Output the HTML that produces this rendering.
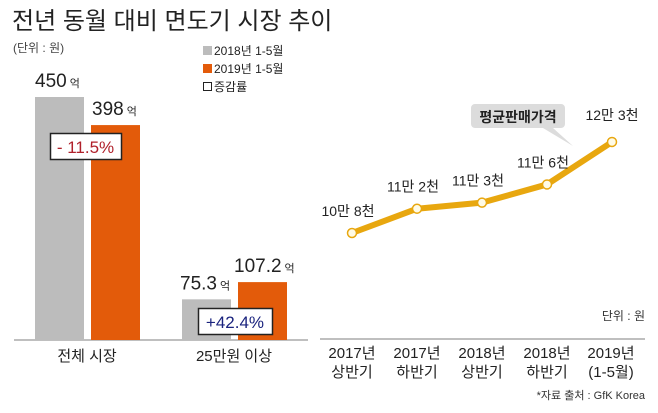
<!DOCTYPE html>
<html><head><meta charset="utf-8"><style>
body{margin:0;background:#fff;}
svg{display:block;font-family:"Liberation Sans","Noto Sans CJK KR",sans-serif;}
</style></head><body>
<svg id="c" width="658" height="413" viewBox="0 0 658 413">
<text x="12" y="29" font-size="24" fill="#222">전년 동월 대비 면도기 시장 추이</text>
<text x="13" y="52" font-size="12" fill="#444">(단위 : 원)</text>
<g>
<rect x="203" y="46" width="9" height="9" fill="#bcbcbc"/>
<text x="214" y="55" font-size="12" fill="#222">2018년 1-5월</text>
<rect x="203" y="64" width="9" height="9" fill="#e35b0a"/>
<text x="214" y="73" font-size="12" fill="#222">2019년 1-5월</text>
<rect x="203.5" y="82.5" width="8" height="8" fill="#fff" stroke="#222"/>
<text x="214" y="91" font-size="12" fill="#222">증감률</text>
</g>
<line x1="14" y1="340" x2="308" y2="340" stroke="#999" stroke-width="1.2"/>
<line x1="320" y1="339" x2="645" y2="339" stroke="#999" stroke-width="1.2"/>
<g id="bars"></g>
<g id="line"></g>
<text x="645" y="320" font-size="12" fill="#333" text-anchor="end">단위 : 원</text>
<text x="645" y="399" font-size="11" fill="#333" text-anchor="end">*자료 출처 : GfK Korea</text>
</svg>
<script>
const barCategories=["전체 시장","25만원 이상"];
const values2018=[450,75.3];
const values2019=[398,107.2];
const rateLabels=["- 11.5%","+42.4%"];
const barValueLabels2018=["450","75.3"];
const barValueLabels2019=["398","107.2"];
const lineCategories=[["2017년","상반기"],["2017년","하반기"],["2018년","상반기"],["2018년","하반기"],["2019년","(1-5월)"]];
const priceValues=[108,112,113,116,123];
const priceLabels=["10만 8천","11만 2천","11만 3천","11만 6천","12만 3천"];
const NS="http://www.w3.org/2000/svg";
function mk(tag,attrs,parent,txt){const e=document.createElementNS(NS,tag);for(const k in attrs)e.setAttribute(k,attrs[k]);if(txt!==undefined)e.textContent=txt;parent.appendChild(e);return e;}
const base=340, scale=0.54;
const yBar=v=>base-v*scale;
const groupX=[35,182];
const bg=document.getElementById('bars');
barCategories.forEach((c,i)=>{
  const x=groupX[i];
  const r1=mk('rect',{x:x,y:yBar(values2018[i]),width:49,height:base-yBar(values2018[i]),fill:'#bcbcbc'},bg);
  
  
  const r2=mk('rect',{x:x+56,y:yBar(values2019[i]),width:49,height:base-yBar(values2019[i]),fill:'#e35b0a'},bg);
  
  
  const t1=mk('text',{x:x+(i?-2:0),y:yBar(values2018[i])-10,'font-size':19,fill:'#222'},bg);
  
  
  mk('tspan',{},t1,barValueLabels2018[i]);mk('tspan',{'font-size':11,dx:3},t1,'억');
  const t2=mk('text',{x:x+(i?52:57),y:yBar(values2019[i])-10,'font-size':19,fill:'#222'},bg);
  
  
  mk('tspan',{},t2,barValueLabels2019[i]);mk('tspan',{'font-size':11,dx:3},t2,'억');
  const bx=i?198:50, by=i?308:133, bw=i?74:71;
  const rb=mk('rect',{x:bx+0.5,y:by+0.5,width:bw,height:26,fill:'#fff',stroke:'#222','stroke-width':1.5},bg);
  
  
  const rt=mk('text',{x:bx+bw/2,y:by+20,'font-size':17,'text-anchor':'middle',fill:i?'#1a237e':'#b0202a'},bg,rateLabels[i]);
  
  
  const cl=mk('text',{x:x+52,y:361,'font-size':15,'text-anchor':'middle',fill:'#222'},bg,c);
  
  
});
const lg=document.getElementById('line');
const xL=i=>352+i*65;
const yL=v=>233-(v-108)*6.07;
const pts=priceValues.map((v,i)=>xL(i)+','+yL(v)).join(' ');
const pl=mk('polyline',{points:pts,fill:'none',stroke:'#e8a70f','stroke-width':6,'stroke-linejoin':'round'},lg);


priceValues.forEach((v,i)=>{
  const c=mk('circle',{cx:xL(i),cy:yL(v),r:4.5,fill:'#fffbe6',stroke:'#e8a70f','stroke-width':1.5},lg);
  
  
  const t=mk('text',{x:xL(i)-(i==4?0:4),y:yL(v)-(i==4?22:17),'font-size':14,'text-anchor':'middle',fill:'#222'},lg,priceLabels[i]);
  
  
  lineCategories[i].forEach((s,j)=>{
    const tt=mk('text',{x:xL(i)+(i==4?-1:0),y:358+j*19,'font-size':15,'text-anchor':'middle',fill:'#222'},lg,s);
    
    
  });
});
const cb=mk('path',{d:'M475,104 h86 a4,4 0 0 1 4,4 v16 a4,4 0 0 1 -4,4 h-8 l20,18 l-30,-18 h-68 a4,4 0 0 1 -4,-4 v-16 a4,4 0 0 1 4,-4z',fill:'#dcdcdc'},lg);


const ct=mk('text',{x:518,y:122,'font-size':14,'font-weight':'bold','text-anchor':'middle',fill:'#222'},lg,'평균판매가격');


</script>
</body></html>
